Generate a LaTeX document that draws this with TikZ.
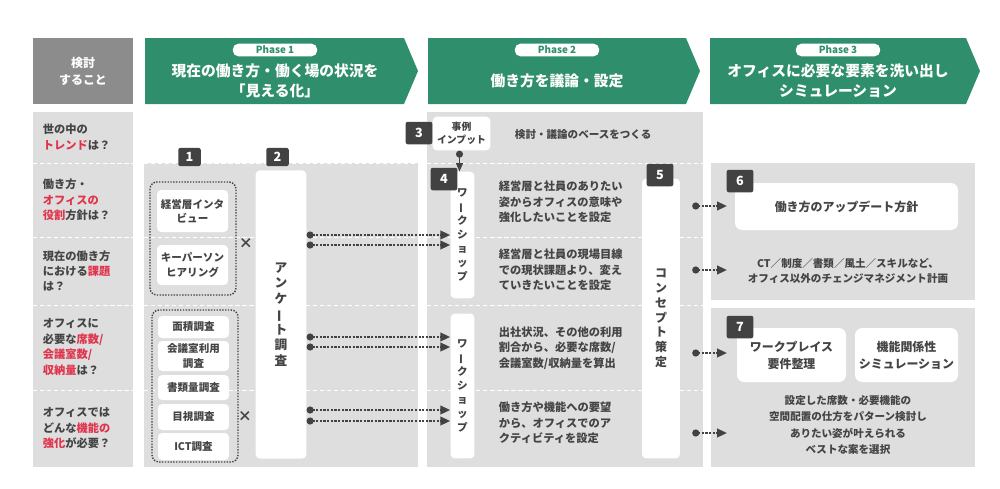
\documentclass[tikz,border=0pt]{standalone}
\usepackage{fontspec}
\setmainfont{Noto Sans CJK JP}
\usetikzlibrary{arrows.meta,positioning,calc}
\definecolor{phasegreen}{HTML}{2F8F6C}
\definecolor{bggray}{HTML}{DEDEDE}
\definecolor{badgegray}{HTML}{424242}
\definecolor{txtgray}{HTML}{444444}
\definecolor{hired}{HTML}{E0344C}
\definecolor{headgray}{HTML}{8C8C8C}
\newcommand{\hl}[1]{\textcolor{hired}{#1}}
\newcommand{\vbar}{\rotatebox[origin=c]{90}{ー}}
\tikzset{
  every node/.style={text=txtgray,font=\fontsize{7.5}{10}\selectfont\bfseries},
  whitebox/.style={fill=white,rounded corners=3pt,align=center,inner sep=0pt},
  badge/.style={fill=badgegray,rounded corners=1.5pt,text=white,font=\fontsize{9}{9}\selectfont\bfseries,minimum width=16pt,minimum height=13pt,inner sep=0pt},
  pill/.style={fill=white,rounded corners=4pt,text=phasegreen,font=\fontsize{7}{7}\selectfont\bfseries,minimum width=60pt,minimum height=9pt,inner sep=0pt},
  phasetxt/.style={text=white,align=center,font=\fontsize{10.5}{14}\selectfont\bfseries},
  rowtxt/.style={anchor=west,align=left,font=\fontsize{8}{11}\selectfont\bfseries},
  flow/.style={densely dotted,line width=1.6pt,draw=badgegray,{Circle[length=5pt]}-{Triangle[length=7pt,width=6pt]}},
  sep/.style={white,densely dashed,line width=0.4pt}
}
\begin{document}
\begin{tikzpicture}[x=0.025cm,y=-0.025cm]
\useasboundingbox (0,0) rectangle (1000,488);
%% header
\fill[headgray] (33,38) rectangle (133,104);
\node[phasetxt,font=\fontsize{8.5}{12}\selectfont\bfseries] (head) at (83,71) {検討\\すること};
\fill[phasegreen] (145,38) -- (404,38) -- (418,71) -- (404,104) -- (145,104) -- cycle;
\fill[phasegreen] (428,38) -- (686,38) -- (700,71) -- (686,104) -- (428,104) -- cycle;
\fill[phasegreen] (710,38) -- (966,38) -- (980,71) -- (966,104) -- (710,104) -- cycle;
\node[pill] (p1) at (275,50) {Phase 1};
\node[pill] (p2) at (557,50) {Phase 2};
\node[pill] (p3) at (838,50) {Phase 3};
\node[phasetxt] (h1) at (275,81) {現在の働き方・働く場の状況を\\「見える化」};
\node[phasetxt] (h2) at (557,81) {働き方を議論・設定};
\node[phasetxt] (h3) at (838,81) {オフィスに必要な要素を洗い出し\\シミュレーション};
%% backgrounds
\fill[bggray] (33,112) rectangle (133,467);
\fill[bggray] (144,163) rectangle (418,467);
\fill[bggray] (427,112) rectangle (703,467);
\fill[bggray] (711,163) rectangle (975,300);
\fill[bggray] (711,308) rectangle (975,467);
\foreach \y in {163,237,305,390} {
  \draw[sep] (33,\y) -- (133,\y);
  \draw[sep] (144,\y) -- (418,\y);
  \draw[sep] (427,\y) -- (703,\y);
}
%% row questions
\node[rowtxt] (q1) at (38,137) {世の中の\\\hl{トレンド}は？};
\node[rowtxt] (q2) at (38,200) {働き方・\\\hl{オフィスの}\\\hl{役割}方針は？};
\node[rowtxt] (q3) at (38,271) {現在の働き方\\における\hl{課題}\\は？};
\node[rowtxt] (q4) at (38,347) {オフィスに\\必要な\hl{席数/}\\\hl{会議室数/}\\\hl{収納量}は？};
\node[rowtxt] (q5) at (38,428) {オフィスでは\\どんな\hl{機能の}\\\hl{強化}が必要？};
%% phase 1
\draw[badgegray,densely dotted,line width=1pt,rounded corners=5pt] (150,182) rectangle (236,295);
\draw[badgegray,densely dotted,line width=1pt,rounded corners=5pt] (152,310) rectangle (238,462);
\fill[white,rounded corners=3pt] (157,190) rectangle (228,232);
\node[align=center] (interv) at (192.5,211) {経営層インタ\\ビュー};
\fill[white,rounded corners=3pt] (157,245) rectangle (228,285);
\node[align=center] (hearing) at (192.5,265) {キーパーソン\\ヒアリング};
\foreach \nm/\ya/\yb/\t in {area/316/338/面積調査, meet/341/371/{会議室利用\\調査}, docs/375/400/書類量調査, visual/404/430/目視調査, ict/433/460/ICT調査} {
  \fill[white,rounded corners=3pt] (158,\ya) rectangle (229,\yb);
  \node[align=center] (\nm) at (193.5,{(\ya+\yb)/2}) {\t};
}
\node[font=\fontsize{10}{10}\selectfont\bfseries] (x1) at (246,243) {×};
\node[font=\fontsize{10}{10}\selectfont\bfseries] (x2) at (245,416) {×};
\node[whitebox,minimum width=36pt,minimum height=205pt] (survey) at (281,314.5) {};
\node[align=center,font=\fontsize{9}{11}\selectfont\bfseries] (surveytxt) at (survey) {ア\\ン\\ケ\\\vbar\\ト\\調\\査};
\node[badge] (b1) at (189.5,157) {1};
\node[badge] (b2) at (277.5,157) {2};
%% phase 2
\node[whitebox,minimum width=41pt,minimum height=24pt,font=\fontsize{7}{9}\selectfont\bfseries] (case) at (461.5,133.5) {事例\\インプット};
\node[badge,minimum width=19pt,minimum height=16pt] (b3) at (419,133) {3};
\node[anchor=west] (base) at (510,135) {検討・議論のベースをつくる};
\node[whitebox,minimum width=17pt,minimum height=90pt] (ws1) at (462.5,235) {};
\node[whitebox,minimum width=17pt,minimum height=103pt] (ws2) at (462.5,386) {};
\node[align=center] (ws1txt) at (ws1) {ワ\\\vbar\\ク\\シ\\ョ\\ッ\\プ};
\node[align=center] (ws2txt) at (ws2) {ワ\\\vbar\\ク\\シ\\ョ\\ッ\\プ};
\node[badge,minimum width=19pt,minimum height=16pt] (b4) at (444,179) {4};
\draw[badgegray,line width=1pt,{Circle[length=5pt]}-{Triangle[length=6pt,width=5pt]}] (case.south) ++(-2,0) coordinate (cs) -- (cs |- ws1.north);
\node[whitebox,minimum width=27pt,minimum height=199pt] (concept) at (661,318.5) {};
\node[align=center,font=\fontsize{8.5}{10.5}\selectfont\bfseries] (concepttxt) at (concept) {コ\\ン\\セ\\プ\\ト\\策\\定};
\node[badge,minimum width=19pt,minimum height=16pt] (b5) at (660,175) {5};
\node[rowtxt] (t1) at (494,202) {経営層と社員のありたい\\姿からオフィスの意味や\\強化したいことを設定};
\node[rowtxt] (t2) at (494,270) {経営層と社員の現場目線\\での現状課題より、変え\\ていきたいことを設定};
\node[rowtxt] (t3) at (494,348) {出社状況、その他の利用\\割合から、必要な席数/\\会議室数/収納量を算出};
\node[rowtxt] (t4) at (494,423) {働き方や機能への要望\\から、オフィスでのア\\クティビティを設定};
%% phase 1 -> phase 2
\foreach \y in {235,245,337,347,410,421}
  \draw[flow] (survey.east |- 0,\y) -- (ws1.west |- 0,\y);
%% phase 3
\fill[white,rounded corners=5pt] (735,183) rectangle (958,230);
\node[font=\fontsize{8.5}{10}\selectfont\bfseries] (update) at (846.5,206.5) {働き方のアップデート方針};
\node[align=center] (change) at (848,271) {CT／制度／書類／風土／スキルなど、\\オフィス以外のチェンジマネジメント計画};
\fill[white,rounded corners=5pt] (737,328) rectangle (846,382);
\fill[white,rounded corners=5pt] (855,328) rectangle (958,382);
\node[align=center,font=\fontsize{8.5}{12}\selectfont\bfseries] (req) at (791.5,355) {ワークプレイス\\要件整理};
\node[align=center,font=\fontsize{8.5}{12}\selectfont\bfseries] (sim) at (906.5,355) {機能関係性\\シミュレーション};
\node[align=center,font=\fontsize{7.5}{11.5}\selectfont\bfseries] (select) at (848,425) {設定した席数・必要機能の\\空間配置の仕方をパターン検討し\\ありたい姿が叶えられる\\ベストな案を選択};
\node[badge,minimum width=19pt,minimum height=16pt] (b6) at (740,181) {6};
\node[badge,minimum width=19pt,minimum height=16pt] (b7) at (740,327) {7};
%% phase 2 -> phase 3
\foreach \y in {206,270,353,433}
  \draw[flow] (concept.east |- 0,\y) ++(12,0) -- (727,\y);
\end{tikzpicture}
\end{document}
